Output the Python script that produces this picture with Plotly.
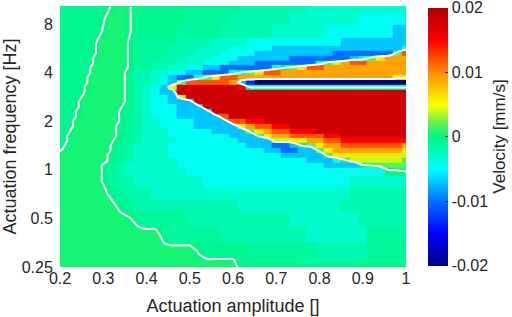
import numpy as np
import plotly.graph_objects as go

# Actuation amplitude grid (columns)
AMPLITUDES = [0.20, 0.22, 0.24, 0.26, 0.28, 0.30, 0.32, 0.34, 0.36, 0.38,
              0.40, 0.42, 0.44, 0.46, 0.48, 0.50, 0.52, 0.54, 0.56, 0.58,
              0.60, 0.62, 0.64, 0.66, 0.68, 0.70, 0.72, 0.74, 0.76, 0.78,
              0.80, 0.82, 0.84, 0.86, 0.88, 0.90, 0.92, 0.94, 0.96, 0.98, 1.00]

# Actuation frequency grid (rows, top to bottom) in Hz
FREQUENCIES_HZ = [10.20, 8.57, 7.21, 6.06, 5.66, 5.28, 4.92, 4.59, 4.29, 4.00,
                  3.73, 3.48, 3.25, 3.03, 2.83, 2.64, 2.46, 2.30, 2.14, 2.00,
                  1.87, 1.74, 1.62, 1.52, 1.41, 1.32, 1.23, 1.15, 1.07, 1.00,
                  0.841, 0.707, 0.595, 0.50, 0.398, 0.314, 0.25]

# Velocity levels (mm/s)
LEVEL_VALUES = {
    'N': -0.020, 'B': -0.013, 'b': -0.010, 'l': -0.007, 'c': -0.0045,
    'k': -0.003, 't': -0.0018, 's': -0.001, 'g': -0.0005, 'f': -0.0001,
    'q': 0.0001, 'p': 0.0005, 'h': 0.002, 'y': 0.004, 'Y': 0.006,
    'o': 0.009, 'O': 0.012, 'r': 0.015, 'R': 0.018,
}

# Cell levels per frequency row (run-length: code + count), top row first
VELOCITY_ROWS = [
    "g6 q p q g6 s6 t8 k12",
    "g5 f p2 q g6 s5 t7 k8 c6",
    "g5 q p2 q g5 s5 t6 k6 c8 l2",
    "g4 f p3 f s5 t4 k4 c11 l8",
    "g4 f p3 f s4 t4 k3 c5 l15 c",
    "g4 f p3 f s4 t3 k3 c4 l9 b7 h O",
    "g4 q p3 f s3 t3 k3 c3 l6 b7 l c h Y o3",
    "g4 q p3 f s2 t3 k3 c3 l3 b7 c h y o O2 o5",
    "g4 p4 f s2 t2 k2 c2 l2 b6 c q h Y O2 o10",
    "g4 p4 g t2 k2 c2 l2 b3 c q h Y O2 o15",
    "g3 f p4 g t2 k c l b2 c h Y O2 o18 y2",
    "g3 f p4 g t2 k c l h O5 o l B N18",
    "g3 q p4 g t k c l Y R7 r s19",
    "g3 q p4 g t k c l2 R27",
    "g3 p5 g t k c2 l y R26",
    "g2 f p5 g t k c2 l3 R25",
    "g2 f p4 q g t k c3 l3 R24",
    "g2 q p4 f s t k c3 l4 R23",
    "g2 q p4 f s t k c3 l5 O R21",
    "g2 p5 f s t k2 c4 l4 O2 r2 R17",
    "g2 p5 g s t k2 c4 l5 Y o O2 r2 R14",
    "g f p5 g s t k3 c5 l4 h Y o O2 r3 R11",
    "g q p5 g s t k3 c7 l3 p Y o2 O4 r2 R8",
    "g q p4 q g s t k4 c7 l4 y2 Y2 o2 O2 r8",
    "g p5 f s t k4 c9 l3 b2 l q h Y o2 O7 o",
    "f p5 f s t k4 c11 l2 b2 l2 h Y o8 Y",
    "p6 g s t k4 c13 l5 h Y8 y",
    "p6 g s t k5 c15 l3 c q y6 h",
    "p5 f s t k6 c17 l4 f p h4",
    "p5 f s t k7 c23 q2 p",
    "p5 f s t2 k8 c17 k7",
    "p6 g s t3 k23 t7",
    "p7 g s t12 k12 t8",
    "p8 q g s5 t12 k8 t6",
    "p12 g s6 t10 k7 s5",
    "p16 f g5 s8 t6 s5",
    "p21 g7 s7 g6",
]

FREQ_TICKS = [0.25, 0.5, 1, 2, 4, 8]
FREQ_TICK_TEXT = ["0.25", "0.5", "1", "2", "4", "8"]
AMP_TICKS = [0.2, 0.3, 0.4, 0.5, 0.6, 0.7, 0.8, 0.9, 1.0]
AMP_TICK_TEXT = ["0.2", "0.3", "0.4", "0.5", "0.6", "0.7", "0.8", "0.9", "1"]
CBAR_TICKS = [-0.02, -0.01, 0, 0.01, 0.02]
CBAR_TICK_TEXT = ["-0.02", "-0.01", "0", "0.01", "0.02"]


def decode(row):
    out = []
    for tok in row.split():
        n = int(tok[1:]) if len(tok) > 1 else 1
        out += [LEVEL_VALUES[tok[0]]] * n
    assert len(out) == len(AMPLITUDES), (row, len(out))
    return out


z = [decode(r) for r in VELOCITY_ROWS][::-1]
y = list(np.log2(FREQUENCIES_HZ[::-1]))

colorscale = [
    [0.0, 'rgb(0,0,135)'], [0.125, 'rgb(0,0,255)'], [0.25, 'rgb(0,110,255)'],
    [0.375, 'rgb(0,255,255)'], [0.5, 'rgb(0,245,130)'], [0.55, 'rgb(90,240,80)'],
    [0.625, 'rgb(255,255,0)'], [0.75, 'rgb(255,140,0)'], [0.875, 'rgb(255,0,0)'],
    [1.0, 'rgb(175,0,0)'],
]

FONT = 'Liberation Sans, Arial, sans-serif'
TXT = '#262626'

fig = go.Figure()
fig.add_trace(go.Heatmap(
    x=AMPLITUDES, y=y, z=z, colorscale=colorscale, zmin=-0.02, zmax=0.02,
    hoverinfo='skip',
    colorbar=dict(
        x=1.0636, xanchor='left', y=0.5, yanchor='middle', len=0.99,
        xpad=0, ypad=0,
        thickness=20, outlinewidth=0, tickvals=CBAR_TICKS, ticktext=CBAR_TICK_TEXT,
        ticks='inside', ticklen=3, tickcolor=TXT, ticklabeloverflow='allow',
        tickfont=dict(family=FONT, size=16, color=TXT),
        title=dict(text='Velocity [mm/s]', side='right',
                   font=dict(family=FONT, size=17, color=TXT)),
    ),
))
fig.add_trace(go.Contour(
    x=AMPLITUDES, y=y, z=z, autocontour=False,
    contours=dict(start=0, end=0, size=0.01, coloring='none'),
    line=dict(color='white', width=2, smoothing=0.6),
    showscale=False, hoverinfo='skip',
))

fig.update_layout(
    width=512, height=317,
    margin=dict(l=60, r=106, t=6, b=50, autoexpand=False),
    paper_bgcolor='white', plot_bgcolor='white',
    font=dict(family=FONT, size=16, color=TXT),
    xaxis=dict(range=[0.2, 1.0], tickvals=AMP_TICKS, ticktext=AMP_TICK_TEXT,
               showgrid=False, zeroline=False, showline=False,
               ticks='', automargin=False,
               tickfont=dict(family=FONT, size=16, color=TXT),
               title=dict(text='Actuation amplitude []', standoff=13,
                          font=dict(family=FONT, size=18, color=TXT))),
    yaxis=dict(range=[-2, 3.37], tickvals=list(np.log2(FREQ_TICKS)), ticktext=FREQ_TICK_TEXT,
               showgrid=False, zeroline=False, showline=False,
               ticks='outside', ticklen=3, tickcolor='rgba(0,0,0,0)', automargin=False,
               tickfont=dict(family=FONT, size=16, color=TXT),
               title=dict(text='Actuation frequency [Hz]', standoff=4,
                          font=dict(family=FONT, size=18, color=TXT))),
)

fig.write_html("out.html", config={'displayModeBar': False},
               post_script="document.body.style.margin='0';document.body.style.padding='0';")
